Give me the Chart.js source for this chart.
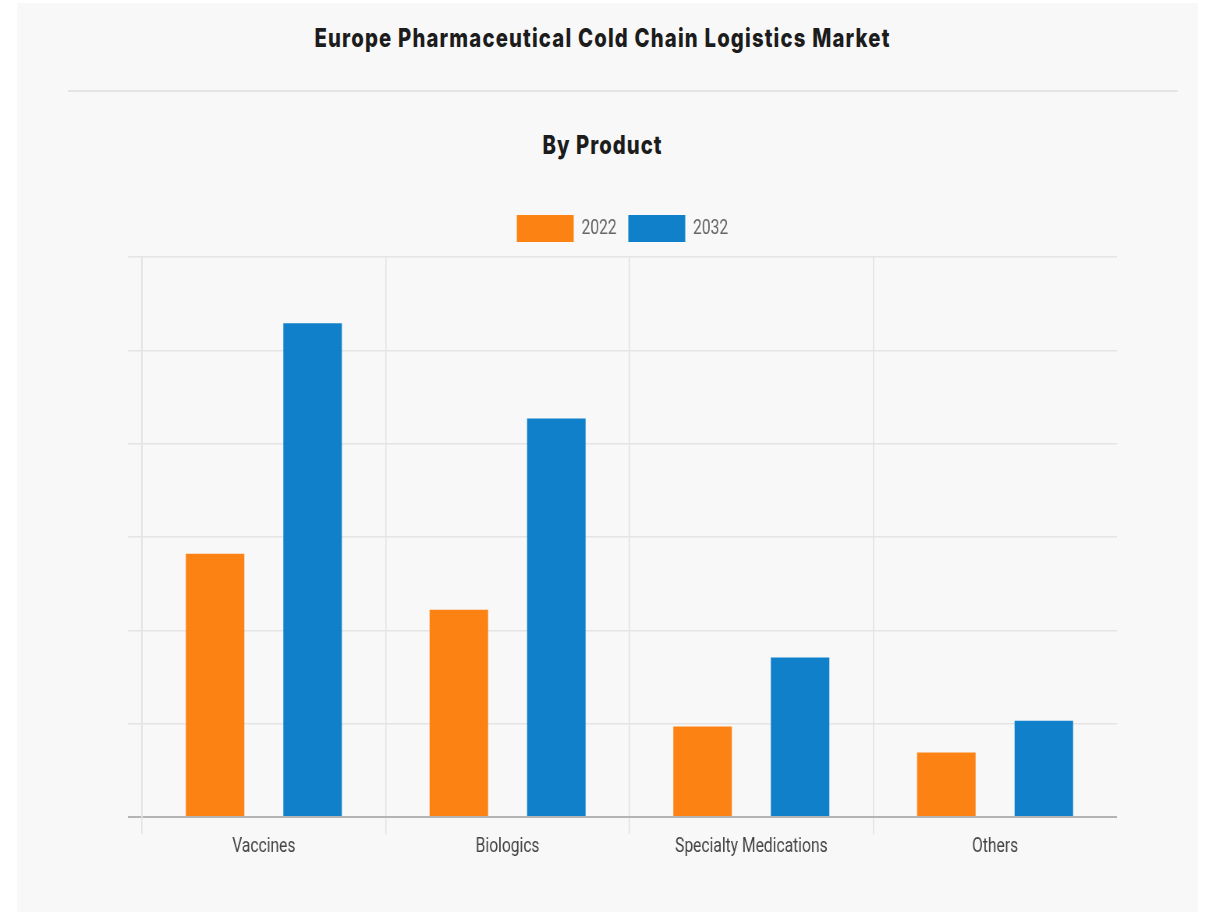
<!DOCTYPE html>
<html>
<head>
<meta charset="utf-8">
<script src="https://cdn.jsdelivr.net/npm/chart.js@4.4.0/dist/chart.umd.min.js"></script>
<style>
  html, body { margin: 0; padding: 0; background: #ffffff; width: 1205px; height: 915px; overflow: hidden; }
  #stage { position: absolute; left: 0; top: 0; width: 1545px; height: 915px; transform: scaleX(0.78); transform-origin: 0 0; }
  #panel { position: absolute; left: 21.8px; top: 3px; width: 1514px; height: 909px; background: #f8f8f8; }
  .ttl { position: absolute; left: 0; width: 1545px; text-align: center; font-family: Inter, "Open Sans", sans-serif; font-weight: 800; color: #1c1c1c; white-space: nowrap; }
  #title { top: 22px; font-size: 26px; line-height: 32px; letter-spacing: 1.5px; }
  #rule { position: absolute; left: 87px; width: 1423px; top: 90px; height: 2px; background: #e4e4e4; }
  #sub { top: 129px; font-size: 26px; line-height: 32px; letter-spacing: 1.3px; }
  #c { position: absolute; left: 0; top: 160px; }
</style>
</head>
<body>
<div id="stage">
  <div id="panel"></div>
  <div id="title" class="ttl">Europe Pharmaceutical Cold Chain Logistics Market</div>
  <div id="rule"></div>
  <div id="sub" class="ttl">By Product</div>
  <canvas id="c" width="1545" height="720"></canvas>
</div>
<script>
const categories = ["Vaccines", "Biologics", "Specialty Medications", "Others"];
const seriesLabels = ["2022", "2032"];
const values2022 = [2.82, 2.22, 0.97, 0.69];
const values2032 = [5.29, 4.27, 1.71, 1.03];
const colors = ["#fd8214", "#0f80c9"];

const legendGap = {
  id: 'legendGap',
  beforeInit(chart) {
    if (!chart.legend) return;
    const origFit = chart.legend.fit;
    chart.legend.fit = function () {
      origFit.call(this);
      this.height += 5;
    };
  }
};

const ctx = document.getElementById('c').getContext('2d');
new Chart(ctx, {
  type: 'bar',
  data: {
    labels: categories,
    datasets: [
      { label: seriesLabels[0], data: values2022, backgroundColor: colors[0], borderWidth: 0, categoryPercentage: 0.8, barPercentage: 0.6 },
      { label: seriesLabels[1], data: values2032, backgroundColor: colors[1], borderWidth: 0, categoryPercentage: 0.8, barPercentage: 0.6 }
    ]
  },
  plugins: [legendGap],
  options: {
    responsive: false,
    animation: false,
    devicePixelRatio: 1,
    layout: { padding: { top: 40, left: 164, right: 113, bottom: 20 } },
    plugins: {
      legend: {
        display: true,
        position: 'top',
        labels: {
          boxWidth: 73,
          boxHeight: 27,
          padding: 15,
          color: '#666666',
          font: { family: 'Roboto', size: 20 }
        }
      },
      tooltip: { enabled: false },
      title: { display: false }
    },
    scales: {
      x: {
        grid: {
          display: true,
          offset: true,
          drawTicks: true,
          tickLength: 17,
          lineWidth: 1.5,
          color: (c) => c.type === 'tick' ? '#e2e2e2' : 'rgba(0,0,0,0)'
        },
        border: { display: false },
        ticks: {
          color: '#444444',
          padding: 1,
          font: { family: 'Roboto', size: 20 },
          maxRotation: 0
        }
      },
      y: {
        min: 0,
        max: 6,
        grid: {
          display: true,
          drawTicks: true,
          tickLength: 18,
          lineWidth: (c) => (c.tick && c.tick.value === 0) ? 2 : 1.5,
          color: (c) => (c.tick && c.tick.value === 0) ? '#b4b4b4' : '#e4e4e4'
        },
        border: { display: true, color: '#e2e2e2', width: 1.5 },
        ticks: { display: false, stepSize: 1 }
      }
    }
  }
});
</script>
</body>
</html>
